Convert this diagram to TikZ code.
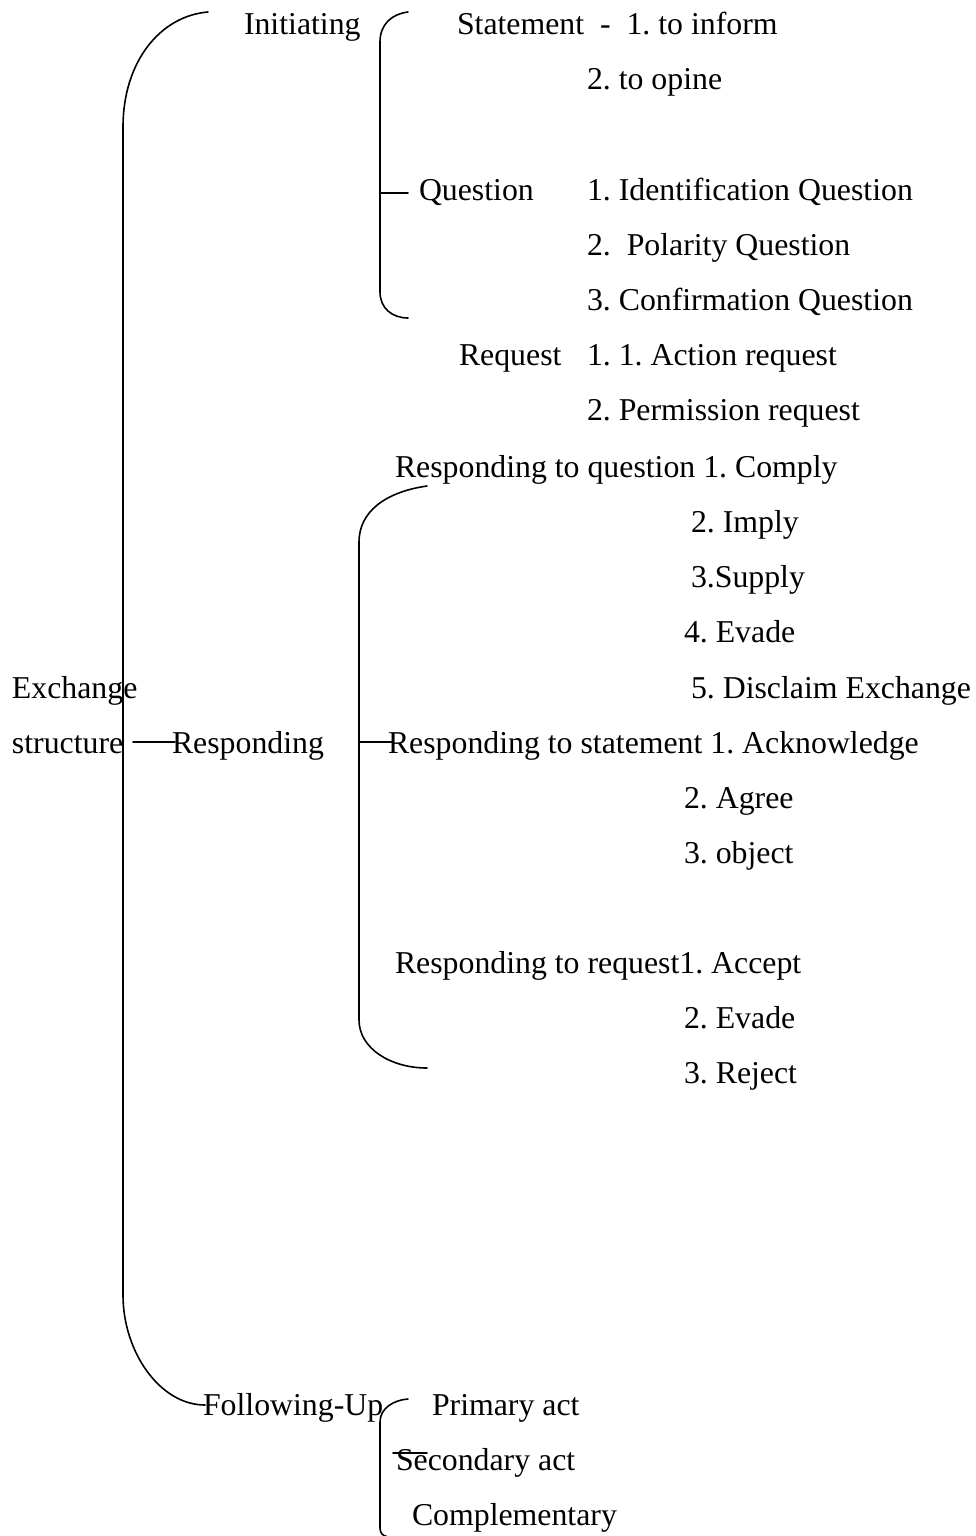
\documentclass[tikz,border=0pt]{standalone}
\usepackage{fontspec}
\setmainfont{Liberation Serif}
\begin{document}
\frenchspacing
\begin{tikzpicture}[x=1pt,y=-1pt,
  lbl/.style={anchor=base west,inner sep=0pt,outer sep=0pt,font=\fontsize{31.8}{38}\selectfont},
  brk/.style={line width=1.6pt,line cap=round}]
\useasboundingbox (0,0) rectangle (976,1536);
% --- texts
\node[lbl] (exch) at (12,698) {Exchange};
\node[lbl] (struct) at (12,753) {structure};
\node[lbl] (init) at (244,35) {Initiating};
\node[lbl] (resp) at (172,753) {Responding};
\node[lbl] (foll) at (203,1415) {Following-Up};
% initiating
\node[lbl] (stat) at (457,35) {Statement\ \ -\ \ 1. to inform};
\node[lbl] (s2) at (587,90) {2. to opine};
\node[lbl] (ques) at (419,200) {Question};
\node[lbl] (q1) at (587,200) {1. Identification Question};
\node[lbl] (q2) at (587,255) {2.\ \ Polarity Question};
\node[lbl] (q3) at (587,310) {3. Confirmation Question};
\node[lbl] (req) at (459,365) {Request};
\node[lbl] (r1) at (587,365) {1. 1. Action request};
\node[lbl] (r2) at (587,420) {2. Permission request};
% responding
\node[lbl] (rq) at (395,477) {Responding to question 1. Comply};
\node[lbl] (rq2) at (691,532) {2. Imply};
\node[lbl] (rq3) at (691,587) {3.Supply};
\node[lbl] (rq4) at (684,642) {4. Evade};
\node[lbl] (rq5) at (691,698) {5. Disclaim Exchange};
\node[lbl] (rs) at (388,753) {Responding to statement 1. Acknowledge};
\node[lbl] (rs2) at (684,808) {2. Agree};
\node[lbl] (rs3) at (684,863) {3. object};
\node[lbl] (rr) at (395,973) {Responding to request1. Accept};
\node[lbl] (rr2) at (684,1028) {2. Evade};
\node[lbl] (rr3) at (684,1083) {3. Reject};
% following-up
\node[lbl] (prim) at (432,1415) {Primary act};
\node[lbl] (sec) at (396,1470) {Secondary act};
\node[lbl] (comp) at (412,1525) {Complementary};
% --- bracket coordinates
\coordinate (bigtop) at (208,12);
\coordinate (bigbot) at (205,1405);
\coordinate (inittop) at (408,12);
\coordinate (initbot) at (408,318);
\coordinate (qtick) at (408,193);
\coordinate (resptop) at (427,486);
\coordinate (respbot) at (427,1068);
\coordinate (rtickA) at (359,742);
\coordinate (rtickB) at (392,742);
\coordinate (btickA) at (133,742);
\coordinate (btickB) at (175,742);
\coordinate (folltop) at (408,1399);
\coordinate (follbot) at (386,1536);
\coordinate (secA) at (393,1453);
\coordinate (secB) at (427,1453);
% big bracket
\draw[brk] (bigtop) .. controls (160,16) and (123,62) .. (123,127)
  -- (123,1295) .. controls (123,1352) and (160,1405) .. (bigbot);
% initiating bracket
\draw[brk] (inittop) .. controls (392,14) and (380,24) .. (380,42)
  -- (380,292) .. controls (380,308) and (392,318) .. (initbot);
\draw[brk] (380,193) -- (qtick);
% responding bracket
\draw[brk] (resptop) .. controls (385,492) and (359,512) .. (359,542)
  -- (359,1020) .. controls (359,1048) and (390,1068) .. (respbot);
\draw[brk] (rtickA) -- (rtickB);
\draw[brk] (btickA) -- (btickB);
% following-up bracket
\draw[brk] (folltop) .. controls (394,1400) and (380,1408) .. (380,1422)
  -- (380,1528) .. controls (380,1533) and (383,1536) .. (follbot);
\draw[brk] (secA) -- (secB);
\end{tikzpicture}
\end{document}
